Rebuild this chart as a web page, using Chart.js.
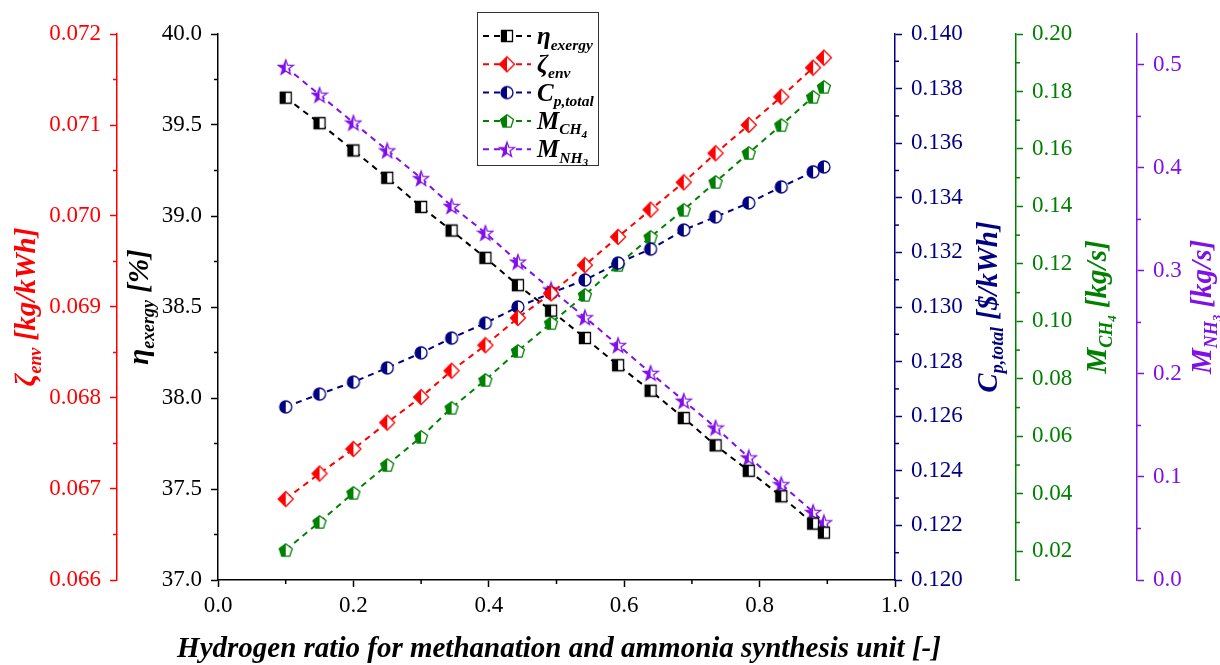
<!DOCTYPE html>
<html>
<head>
<meta charset="utf-8">
<script src="https://cdn.jsdelivr.net/npm/chart.js@4.4.1/dist/chart.umd.min.js"></script>
<style>
html, body { margin: 0; padding: 0; background: #fff; }
#wrap { width: 1220px; height: 665px; }
</style>
</head>
<body>
<div id="wrap"><canvas id="chart"></canvas></div>
<script>
// data
var hydrogenRatio = [0.10, 0.15, 0.20, 0.25, 0.30, 0.345, 0.395, 0.443, 0.492, 0.542, 0.591, 0.639, 0.688, 0.735, 0.784, 0.832, 0.879, 0.895];
var etaExergy = [39.65, 39.51, 39.36, 39.21, 39.05, 38.92, 38.77, 38.62, 38.48, 38.33, 38.18, 38.04, 37.89, 37.74, 37.60, 37.46, 37.31, 37.26];
var zetaEnv = [0.06689, 0.06717, 0.06744, 0.06773, 0.06801, 0.06830, 0.06858, 0.06888, 0.06915, 0.06946, 0.06977, 0.07007, 0.07037, 0.07069, 0.07100, 0.07131, 0.07163, 0.07174];
var costTotal = [0.12634, 0.12681, 0.12725, 0.12777, 0.12832, 0.12886, 0.12941, 0.13000, 0.13051, 0.13099, 0.13161, 0.13212, 0.13282, 0.13330, 0.13381, 0.13440, 0.13495, 0.13513];
var massCH4 = [0.0204, 0.0302, 0.0403, 0.0500, 0.0598, 0.0699, 0.0796, 0.0897, 0.0994, 0.1092, 0.1196, 0.1294, 0.1388, 0.1485, 0.1586, 0.1683, 0.1781, 0.1816];
var massNH3 = [0.498, 0.471, 0.444, 0.417, 0.390, 0.363, 0.337, 0.309, 0.282, 0.255, 0.228, 0.201, 0.174, 0.148, 0.119, 0.093, 0.066, 0.056];

// tick values
var xTicks = [0.0, 0.2, 0.4, 0.6, 0.8, 1.0];
var etaTicks = [37.0, 37.5, 38.0, 38.5, 39.0, 39.5, 40.0];
var zetaTicks = [0.066, 0.067, 0.068, 0.069, 0.070, 0.071, 0.072];
var costTicks = [0.120, 0.122, 0.124, 0.126, 0.128, 0.130, 0.132, 0.134, 0.136, 0.138, 0.140];
var ch4Ticks = [0.02, 0.04, 0.06, 0.08, 0.10, 0.12, 0.14, 0.16, 0.18, 0.20];
var nh3Ticks = [0.0, 0.1, 0.2, 0.3, 0.4, 0.5];

var SERIF = "'Liberation Serif', 'Times New Roman', serif";
var BLACK = '#000000', RED = '#FF0000', NAVY = '#000080', GREEN = '#008000', VIOLET = '#7F10E8';

// half filled markers
function shapePath(g, shape) {
    g.beginPath();
    if (shape === 'square') {
        g.rect(-5.5, -5.5, 11, 11);
    } else if (shape === 'diamond') {
        g.moveTo(0, -7.5); g.lineTo(7.5, 0); g.lineTo(0, 7.5); g.lineTo(-7.5, 0); g.closePath();
    } else if (shape === 'circle') {
        g.arc(0, 0, 6, 0, Math.PI * 2);
    } else if (shape === 'pentagon') {
        for (var i = 0; i < 5; i++) {
            var a = -Math.PI / 2 + i * 2 * Math.PI / 5;
            g.lineTo(6.8 * Math.cos(a), 6.8 * Math.sin(a) + 0.6);
        }
        g.closePath();
    } else if (shape === 'star') {
        for (var j = 0; j < 10; j++) {
            var b = -Math.PI / 2 + j * Math.PI / 5;
            var r = j % 2 === 0 ? 7.8 : 3.2;
            g.lineTo(r * Math.cos(b), r * Math.sin(b) + 0.8);
        }
        g.closePath();
    }
}

function makeMarker(shape, color) {
    var c = document.createElement('canvas');
    c.width = 18; c.height = 18;
    var g = c.getContext('2d');
    g.translate(9, 9);
    shapePath(g, shape);
    g.fillStyle = '#fff';
    g.fill();
    g.save();
    g.clip();
    g.fillStyle = color;
    g.fillRect(-9, -9, 9, 18);
    g.restore();
    shapePath(g, shape);
    g.lineWidth = 1.3;
    g.strokeStyle = color;
    g.stroke();
    return c;
}

// text with subscripts: level 0 normal, 1 subscript, 2 sub-subscript
var SUB_SIZE = [1, 0.62, 0.45], SUB_DY = [0, 0.22, 0.36];
function richWidth(ctx, parts, size) {
    var w = 0;
    parts.forEach(function (p) {
        ctx.font = 'italic bold ' + (size * SUB_SIZE[p.sub || 0]) + 'px ' + SERIF;
        w += ctx.measureText(p.t).width;
    });
    return w;
}
function drawRich(ctx, parts, x, y, size, color, align) {
    var w = richWidth(ctx, parts, size);
    var cx = align === 'center' ? x - w / 2 : x;
    ctx.fillStyle = color;
    ctx.textBaseline = 'alphabetic';
    ctx.textAlign = 'left';
    parts.forEach(function (p) {
        var lvl = p.sub || 0;
        ctx.font = 'italic bold ' + (size * SUB_SIZE[lvl]) + 'px ' + SERIF;
        ctx.fillText(p.t, cx, y + size * SUB_DY[lvl]);
        cx += ctx.measureText(p.t).width;
    });
}

var seriesInfo = [
    { name: [{ t: 'η' }, { t: 'exergy', sub: 1 }], color: BLACK, shape: 'square', axis: 'yEta', values: etaExergy },
    { name: [{ t: 'ζ' }, { t: 'env', sub: 1 }], color: RED, shape: 'diamond', axis: 'yZeta', values: zetaEnv },
    { name: [{ t: 'C' }, { t: 'p,total', sub: 1 }], color: NAVY, shape: 'circle', axis: 'yCost', values: costTotal },
    { name: [{ t: 'M' }, { t: 'CH', sub: 1 }, { t: '4', sub: 2 }], color: GREEN, shape: 'pentagon', axis: 'yCH4', values: massCH4 },
    { name: [{ t: 'M' }, { t: 'NH', sub: 1 }, { t: '3', sub: 2 }], color: VIOLET, shape: 'star', axis: 'yNH3', values: massNH3 }
];
seriesInfo.forEach(function (s) { s.marker = makeMarker(s.shape, s.color); });

var datasets = seriesInfo.map(function (s) {
    return {
        label: s.name.map(function (p) { return p.t; }).join(''),
        data: hydrogenRatio.map(function (x, i) { return { x: x, y: s.values[i] }; }),
        yAxisID: s.axis,
        borderColor: s.color,
        backgroundColor: s.color,
        borderWidth: 2,
        borderDash: [6, 5],
        pointStyle: s.marker,
        pointRadius: 6,
        tension: 0
    };
});

function fixedTicks(list) {
    return function (scale) { scale.ticks = list.map(function (v) { return { value: v }; }); };
}
function yAxis(pos, color, min, max, ticks, digits, width) {
    return {
        type: 'linear',
        position: pos,
        min: min,
        max: max,
        afterBuildTicks: fixedTicks(ticks),
        afterFit: function (scale) { scale.width = width; },
        grid: { drawOnChartArea: false, tickLength: 7, tickWidth: 1.5, tickColor: color },
        border: { display: true, color: color, width: 1.5 },
        ticks: {
            color: color,
            padding: 9,
            font: { family: SERIF, size: 23 },
            callback: function (v) { return Number(v).toFixed(digits); }
        }
    };
}

var axisTitles = {
    yZeta: { parts: [{ t: 'ζ' }, { t: 'env', sub: 1 }, { t: ' [kg/kWh]' }], color: RED, x: 25 },
    yEta: { parts: [{ t: 'η' }, { t: 'exergy', sub: 1 }, { t: ' [%]' }], color: BLACK, x: 138 },
    yCost: { parts: [{ t: 'C' }, { t: 'p,total', sub: 1 }, { t: ' [$/kWh]' }], color: NAVY, x: 987 },
    yCH4: { parts: [{ t: 'M' }, { t: 'CH', sub: 1 }, { t: '4', sub: 2 }, { t: ' [kg/s]' }], color: GREEN, x: 1096 },
    yNH3: { parts: [{ t: 'M' }, { t: 'NH', sub: 1 }, { t: '3', sub: 2 }, { t: ' [kg/s]' }], color: VIOLET, x: 1201 }
};
var TITLE_SIZE = 29;

var extrasPlugin = {
    id: 'extras',
    afterDraw: function (chart) {
        var ctx = chart.ctx;
        var area = chart.chartArea;
        ctx.save();
        // minor ticks
        Object.keys(chart.scales).forEach(function (id) {
            var sc = chart.scales[id];
            var vals = sc.ticks.map(function (t) { return t.value; });
            var step = vals[1] - vals[0];
            ctx.strokeStyle = sc.options.border.color;
            ctx.lineWidth = 1.5;
            for (var v = vals[0] - step / 2; v <= vals[vals.length - 1] + step; v += step) {
                if (v < sc.min - 1e-9 || v > sc.max + 1e-9) continue;
                var p = sc.getPixelForValue(v);
                ctx.beginPath();
                if (sc.position === 'left') { ctx.moveTo(sc.right, p); ctx.lineTo(sc.right - 4, p); }
                else if (sc.position === 'right') { ctx.moveTo(sc.left, p); ctx.lineTo(sc.left + 4, p); }
                else { ctx.moveTo(p, sc.top); ctx.lineTo(p, sc.top + 4); }
                ctx.stroke();
            }
        });
        // axis titles, centred on the axis
        var midY = (area.top + area.bottom) / 2;
        Object.keys(axisTitles).forEach(function (id) {
            var t = axisTitles[id];
            ctx.save();
            ctx.translate(t.x, midY);
            ctx.rotate(-Math.PI / 2);
            drawRich(ctx, t.parts, 0, TITLE_SIZE * 0.33, TITLE_SIZE, t.color, 'center');
            ctx.restore();
        });
        drawRich(ctx, [{ t: 'Hydrogen ratio for methanation and ammonia synthesis unit [-]' }],
            559, 657, 29, BLACK, 'center');
        // legend
        ctx.strokeStyle = '#333';
        ctx.lineWidth = 1;
        ctx.strokeRect(477.5, 12.5, 121, 153);
        seriesInfo.forEach(function (s, i) {
            var y = 36 + i * 28.3;
            ctx.strokeStyle = s.color;
            ctx.lineWidth = 2;
            ctx.setLineDash([6, 5]);
            ctx.beginPath();
            ctx.moveTo(483, y); ctx.lineTo(531, y);
            ctx.stroke();
            ctx.setLineDash([]);
            ctx.drawImage(s.marker, 507 - 9, y - 9);
            drawRich(ctx, s.name, 537, y + 8, 25, BLACK, 'left');
        });
        ctx.restore();
    }
};

new Chart(document.getElementById('chart'), {
    type: 'line',
    data: { datasets: datasets },
    options: {
        responsive: true,
        maintainAspectRatio: false,
        animation: false,
        layout: { padding: { top: 34, left: 0, right: 0, bottom: 0 } },
        plugins: { legend: { display: false }, tooltip: { enabled: false } },
        scales: {
            x: {
                type: 'linear',
                min: 0,
                max: 1,
                afterBuildTicks: fixedTicks(xTicks),
                afterFit: function (scale) { scale.height = 85; },
                grid: { drawOnChartArea: false, tickLength: 7, tickWidth: 1.5, tickColor: BLACK },
                border: { display: true, color: BLACK, width: 1.5 },
                ticks: {
                    color: BLACK,
                    padding: 5,
                    maxRotation: 0,
                    font: { family: SERIF, size: 23 },
                    callback: function (v) { return Number(v).toFixed(1); }
                }
            },
            yEta: yAxis('left', BLACK, 37, 40, etaTicks, 1, 101),
            yZeta: yAxis('left', RED, 0.066, 0.072, zetaTicks, 3, 117),
            yCost: yAxis('right', NAVY, 0.120, 0.140, costTicks, 3, 121),
            yCH4: yAxis('right', GREEN, 0.01, 0.20, ch4Ticks, 2, 121),
            yNH3: yAxis('right', VIOLET, 0, 0.53, nh3Ticks, 1, 83)
        }
    },
    plugins: [extrasPlugin]
});
</script>
</body>
</html>
